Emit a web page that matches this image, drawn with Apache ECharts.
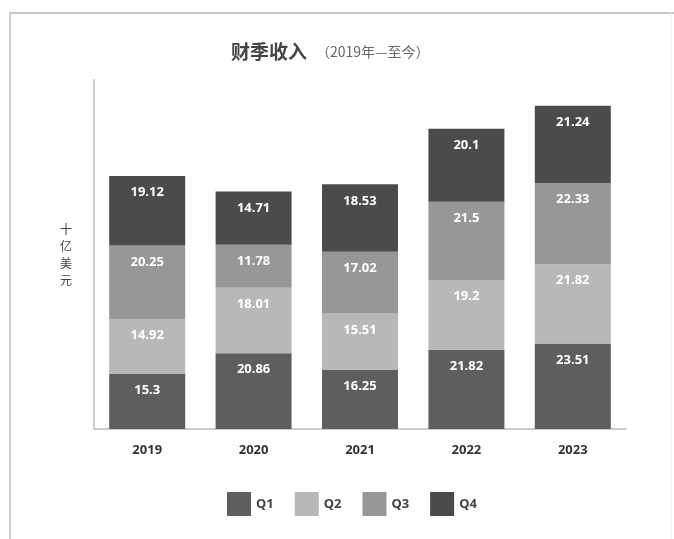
<!DOCTYPE html>
<html><head><meta charset="utf-8">
<script src="https://cdn.jsdelivr.net/npm/echarts@6/dist/echarts.min.js"></script>
<style>html,body{margin:0;padding:0;background:#fff}#c{width:674px;height:539px}</style>
</head><body><div id="c"></div>
<script>
const years = ['2019','2020','2021','2022','2023'];
const q1 = [15.3, 20.86, 16.25, 21.82, 23.51];
const q2 = [14.92, 18.01, 15.51, 19.2, 21.82];
const q3 = [20.25, 11.78, 17.02, 21.5, 22.33];
const q4 = [19.12, 14.71, 18.53, 20.1, 21.24];
const seriesNames = ['Q1','Q2','Q3','Q4'];
const colors = ['#5e5e5e','#b8b8b8','#979797','#4b4b4b'];
const allData = [q1,q2,q3,q4];

const chart = echarts.init(document.getElementById('c'));
chart.setOption({
  animation:false,
  backgroundColor:'#fff',
  title:{
    text:'财季收入',
    left:226, top:37,
    textStyle:{fontFamily:'Noto Sans CJK SC',fontSize:19,fontWeight:'bold',color:'#444'}
  },
  graphic:[
    {type:'text',left:316,top:45,style:{text:'（2019年—至今）',font:'14px "Noto Sans CJK SC"',fill:'#666'}},
    {type:'line',shape:{x1:9,y1:13,x2:674,y2:13},style:{stroke:'#c8c8c8',lineWidth:2}},
    {type:'line',shape:{x1:10,y1:13,x2:10,y2:539},style:{stroke:'#d0d0d0',lineWidth:2}},
    {type:'line',shape:{x1:671,y1:13,x2:671,y2:539},style:{stroke:'#eeeeee',lineWidth:1}}
  ],
  color:colors,
  legend:{
    data:seriesNames,
    bottom:18,left:222,
    itemWidth:24,itemHeight:24,itemGap:21,
    icon:'rect',
    textStyle:{fontFamily:'Noto Sans',fontSize:13,fontWeight:'bold',color:'#444'}
  },
  grid:{left:94,right:48,top:80,bottom:110},
  xAxis:{
    type:'category',data:years,
    axisLine:{lineStyle:{color:'#cccccc',width:2}},
    axisTick:{show:false},
    axisLabel:{margin:15,fontFamily:'Noto Sans',fontSize:13,fontWeight:'bold',color:'#333'}
  },
  yAxis:{
    type:'value',min:0,max:96,
    name:'十\n亿\n美\n元',nameLocation:'middle',nameGap:22,nameRotate:0,
    nameTextStyle:{fontFamily:'Noto Sans CJK SC',fontSize:12,color:'#444',lineHeight:17},
    axisLine:{show:true,lineStyle:{color:'#cccccc',width:2}},
    axisTick:{show:false},axisLabel:{show:false},splitLine:{show:false}
  },
  series: allData.map((d,i)=>({
    name:seriesNames[i],type:'bar',stack:'t',data:d,barWidth:76,
    label:{show:true,position:'insideTop',distance:10,color:'#fff',fontFamily:'Noto Sans',fontSize:13,fontWeight:'bold'}
  }))
});
</script></body></html>
